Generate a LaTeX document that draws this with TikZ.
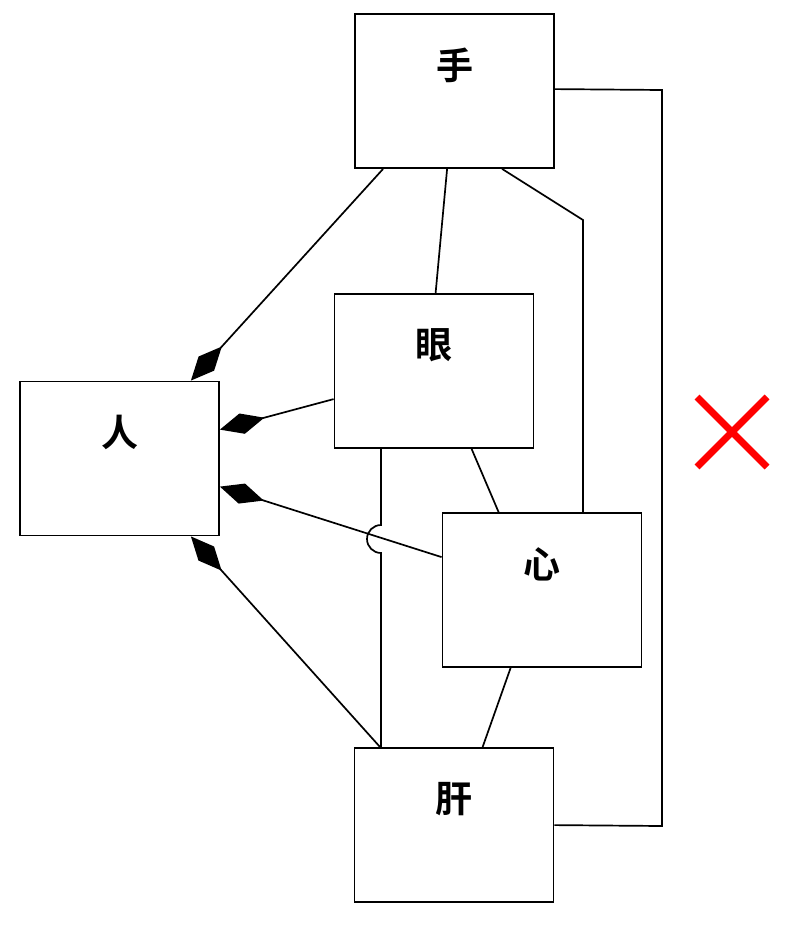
\documentclass[tikz,border=0pt]{standalone}
\usepackage{fontspec}
\newfontfamily\cjk{Noto Sans CJK SC}[BoldFont={Noto Sans CJK SC Bold}]
\usetikzlibrary{arrows.meta,calc}
\begin{document}
\begin{tikzpicture}[x=1pt,y=-1pt,
  box/.style={draw,line width=1.8pt,minimum width=199pt,minimum height=154pt,inner sep=0pt,fill=white},
  lbl/.style={font=\cjk\bfseries\fontsize{37}{37}\selectfont,anchor=center,yshift=-52pt},
  conn/.style={line width=1.7pt},
  agg/.style={conn,-{Diamond[length=46pt,width=21pt]}}]
\useasboundingbox (0,0) rectangle (789,937);
\node[box,label={[lbl]north:手}] (hand) at (454.5,91) {};
\node[box,label={[lbl]north:眼}] (eye) at (434,371) {};
\node[box,label={[lbl]north:人}] (man) at (119.5,458.5) {};
\node[box,label={[lbl]north:心}] (heart) at (542,590) {};
\node[box,label={[lbl]north:肝}] (liver) at (454,825) {};
% diamonds to man
\draw[agg] ($(hand.south west)+(29,0)$) -- ($(man.north east)+(-29,0)$);
\draw[agg] ($(eye.north west)+(0,106)$) -- ($(man.north east)+(0,49)$);
\draw[agg] ($(heart.north west)+(0,45)$) -- ($(man.north east)+(0,106)$);
\draw[agg] ($(liver.north west)+(26.5,0)$) -- ($(man.south east)+(-29,0)$);
% other links
\draw[conn] ($(hand.south west)+(93,0)$) -- ($(eye.north west)+(102,0)$);
\draw[conn] ($(hand.south west)+(148,0)$) -- (583,220) -- (heart.north -| 583,0);
\draw[conn] ($(hand.north east)+(0,76)$) -- (662,90) -- (662,826) -- ($(liver.north east)+(0,78)$);
\draw[conn] ($(eye.south west)+(138,0)$) -- ($(heart.north west)+(57,0)$);
\draw[conn] ($(heart.south west)+(69,0)$) -- ($(liver.north west)+(129,0)$);
\draw[conn] (eye.south -| 381,0) -- (381,525)
  arc[start angle=90,end angle=270,radius=14pt] -- (liver.north -| 381,0);
% red cross
\draw[red,line width=7pt] (697,397) -- (767,467) (767,397) -- (697,467);
\end{tikzpicture}
\end{document}
